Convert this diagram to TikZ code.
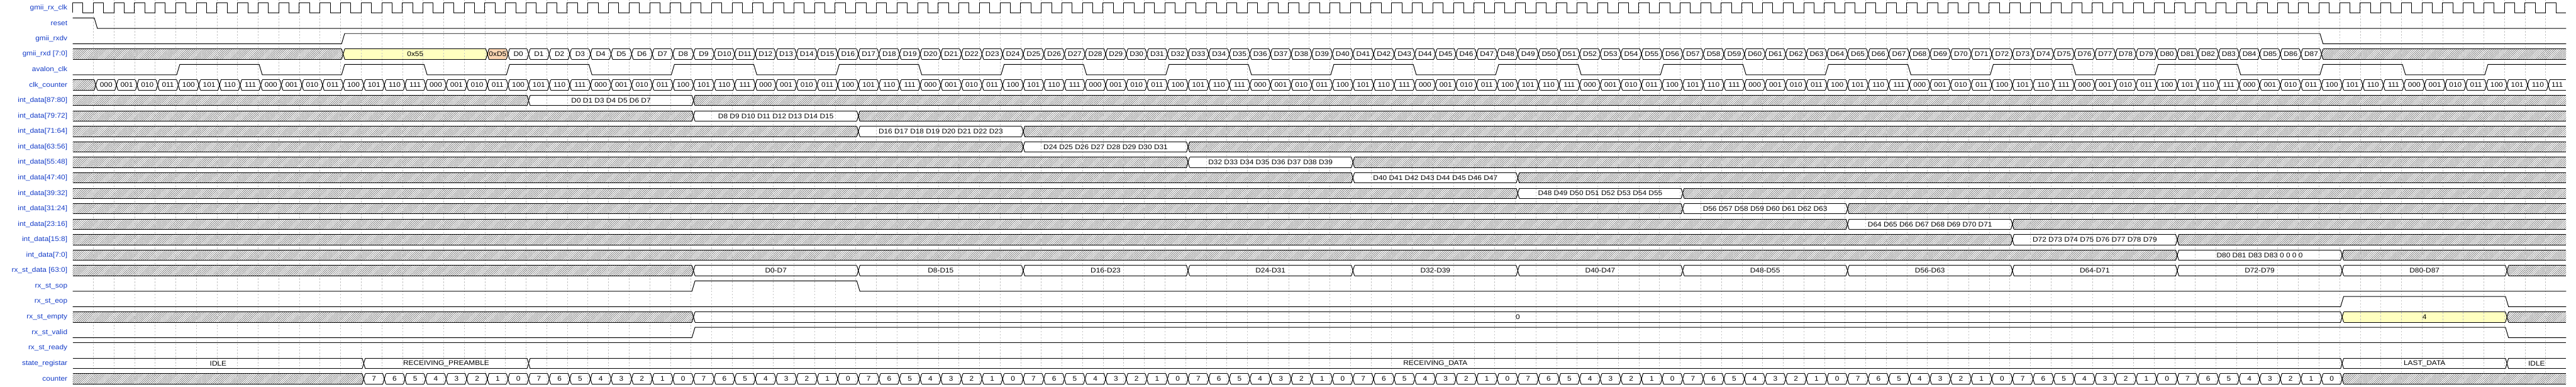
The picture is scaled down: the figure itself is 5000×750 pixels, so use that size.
\documentclass[tikz,border=0pt]{standalone}
\usepackage{fontspec}
\setmainfont[FakeStretch=1.1]{Liberation Sans}
\usetikzlibrary{patterns.meta}
\definecolor{labblue}{RGB}{20,60,200}
\definecolor{valyel}{RGB}{255,255,192}
\definecolor{valpch}{RGB}{252,214,178}
\tikzset{
  sig/.style={line width=1.2pt, line join=miter},
  lab/.style={text=labblue, anchor=east, inner sep=0pt, font=\fontsize{13.2}{15}\selectfont},
  vt/.style={inner sep=0pt, font=\fontsize{13.2}{15}\selectfont},
  hatch/.style={pattern={Lines[angle=45,distance=2.83pt,line width=0.8pt]}, pattern color=black!60},
  wbox/.style={fill=white},
  ybox/.style={fill=valyel},
  pbox/.style={fill=valpch},
  gridline/.style={gray!45, line width=0.6pt, dash pattern=on 3pt off 3pt},
  declare function={ts(\k)=143+40*\k; te(\k)=149+40*\k;}
}
\newif\iffillpass
\newcommand\segshape[4]{%
  \pgfmathsetmacro\yt{5+30*#1}%
  \pgfmathsetmacro\yb{25+30*#1}%
  \pgfmathsetmacro\ym{15+30*#1}%
  \ifnum#2=0 \def\xa{141}\def\xai{141}\else\pgfmathsetmacro\xa{146+40*#2}\pgfmathsetmacro\xai{\xa+3}\fi
  \ifnum#3=121 \def\xb{4981}\def\xbi{4981}\else\pgfmathsetmacro\xb{146+40*#3}\pgfmathsetmacro\xbi{\xb-3}\fi
  \iffillpass
  \path[#4] (\xa,\ym) -- (\xai,\yt) -- (\xbi,\yt) -- (\xb,\ym) -- (\xbi,\yb) -- (\xai,\yb) -- cycle;
  \else
  \draw[sig] (\xai,\yt) -- (\xbi,\yt) (\xai,\yb) -- (\xbi,\yb);
  \ifnum#2=0 \else \draw[sig] (\xai,\yt) -- (\xa,\ym) -- (\xai,\yb);\fi
  \ifnum#3=121 \else \draw[sig] (\xbi,\yt) -- (\xb,\ym) -- (\xbi,\yb);\fi
  \fi
}
\newcommand\hatchseg[3]{\segshape{#1}{#2}{#3}{hatch}}
\newcommand\busseg[6]{\segshape{#1}{#2}{#3}{#4}\iffillpass\else\node[vt] (#6) at ({(\xa+\xb)/2},\ym) {#5};\fi}
\newcommand\binthree[1]{\ifcase#1 000\or 001\or 010\or 011\or 100\or 101\or 110\or 111\fi}
\newcommand\allbuses{%
% gmii_rxd
\hatchseg{3}{0}{13}
\busseg{3}{13}{20}{ybox}{0x55}{rxdpre}
\busseg{3}{20}{21}{pbox}{0xD5}{rxdsfd}
\foreach \i in {0,...,87} {\pgfmathtruncatemacro\ka{21+\i}\pgfmathtruncatemacro\kb{22+\i}\busseg{3}{\ka}{\kb}{wbox}{D\i}{rxd\i}}
\hatchseg{3}{109}{121}
% clk_counter
\hatchseg{5}{0}{1}
\foreach \k in {1,...,120} {\pgfmathtruncatemacro\kb{\k+1}\pgfmathtruncatemacro\v{mod(\k-1,8)}\busseg{5}{\k}{\kb}{wbox}{\binthree{\v}}{cc\k}}
% int_data
\foreach \r/\t in {0/{D0 D1 D3 D4 D5 D6 D7},1/{D8 D9 D10 D11 D12 D13 D14 D15},2/{D16 D17 D18 D19 D20 D21 D22 D23},
  3/{D24 D25 D26 D27 D28 D29 D30 D31},4/{D32 D33 D34 D35 D36 D37 D38 D39},5/{D40 D41 D42 D43 D44 D45 D46 D47},
  6/{D48 D49 D50 D51 D52 D53 D54 D55},7/{D56 D57 D58 D59 D60 D61 D62 D63},8/{D64 D65 D66 D67 D68 D69 D70 D71},
  9/{D72 D73 D74 D75 D76 D77 D78 D79},10/{D80 D81 D83 D83 0 0 0 0}} {
  \pgfmathtruncatemacro\row{6+\r}\pgfmathtruncatemacro\ka{22+8*\r}\pgfmathtruncatemacro\kb{30+8*\r}
  \hatchseg{\row}{0}{\ka}
  \busseg{\row}{\ka}{\kb}{wbox}{\t}{id\r}
  \hatchseg{\row}{\kb}{121}
}
% rx_st_data
\hatchseg{17}{0}{30}
\foreach \i in {0,...,10} {\pgfmathtruncatemacro\ka{30+8*\i}\pgfmathtruncatemacro\kb{38+8*\i}\pgfmathtruncatemacro\da{8*\i}\pgfmathtruncatemacro\db{8*\i+7}\busseg{17}{\ka}{\kb}{wbox}{D\da-D\db}{sd\i}}
\hatchseg{17}{118}{121}
% rx_st_empty
\hatchseg{20}{0}{30}
\busseg{20}{30}{110}{wbox}{0}{emp0}
\busseg{20}{110}{118}{ybox}{4}{emp4}
\hatchseg{20}{118}{121}
% state_registar
\busseg{23}{0}{14}{wbox}{IDLE}{st0}
\busseg{23}{14}{22}{wbox}{RECEIVING\_PREAMBLE}{st1}
\busseg{23}{22}{110}{wbox}{RECEIVING\_DATA}{st2}
\busseg{23}{110}{118}{wbox}{LAST\_DATA}{st3}
\busseg{23}{118}{121}{wbox}{IDLE}{st4}
% counter
\hatchseg{24}{0}{14}
\foreach \k in {14,...,109} {\pgfmathtruncatemacro\kb{\k+1}\pgfmathtruncatemacro\v{7-mod(\k-14,8)}\busseg{24}{\k}{\kb}{wbox}{\v}{cn\k}}
\hatchseg{24}{110}{121}
}
\begin{document}
\begin{tikzpicture}[x=1pt,y=-1pt]
\useasboundingbox (0,0) rectangle (5000,750);
\fill[white] (0,0) rectangle (5000,750);
\fillpasstrue
\allbuses
\foreach \k in {1,...,120} \draw[gridline] ({141+40*\k},0) -- ({141+40*\k},750);
\fillpassfalse
\allbuses
% labels
\foreach \r/\t in {0/{gmii\_rx\_clk},1/{reset},2/{gmii\_rxdv},3/{gmii\_rxd [7:0]},4/{avalon\_clk},5/{clk\_counter},
  6/{int\_data[87:80]},7/{int\_data[79:72]},8/{int\_data[71:64]},9/{int\_data[63:56]},10/{int\_data[55:48]},
  11/{int\_data[47:40]},12/{int\_data[39:32]},13/{int\_data[31:24]},14/{int\_data[23:16]},15/{int\_data[15:8]},
  16/{int\_data[7:0]},17/{rx\_st\_data [63:0]},18/{rx\_st\_sop},19/{rx\_st\_eop},20/{rx\_st\_empty},
  21/{rx\_st\_valid},22/{rx\_st\_ready},23/{state\_registar},24/{counter}}
  \node[lab] (lab\r) at (131,{15+30*\r}) {\t};
% gmii_rx_clk
\draw[sig] (141,25) foreach \k in {0,...,120} { -- ({141+40*\k},25) -- ({141+40*\k},5) -- ({161+40*\k},5) -- ({161+40*\k},25) } -- (4981,25);
% reset
\draw[sig] (141,35) -- ({ts(1)},35) -- ({te(1)},55) -- (4981,55);
% gmii_rxdv
\draw[sig] (141,85) -- ({ts(13)},85) -- ({te(13)},65) -- ({ts(109)},65) -- ({te(109)},85) -- (4981,85);
% avalon_clk
\draw[sig] (141,145) foreach \m in {0,...,13} { -- ({ts(5+8*\m)},145) -- ({te(5+8*\m)},125) -- ({ts(9+8*\m)},125) -- ({te(9+8*\m)},145) } -- ({ts(117)},145) -- ({te(117)},125) -- (4981,125);
% rx_st_sop
\draw[sig] (141,565) -- ({ts(30)},565) -- ({te(30)},545) -- ({ts(38)},545) -- ({te(38)},565) -- (4981,565);
% rx_st_eop
\draw[sig] (141,595) -- ({ts(110)},595) -- ({te(110)},575) -- ({ts(118)},575) -- ({te(118)},595) -- (4981,595);
% rx_st_valid
\draw[sig] (141,655) -- ({ts(30)},655) -- ({te(30)},635) -- ({ts(118)},635) -- ({te(118)},655) -- (4981,655);
% rx_st_ready
\draw[sig] (141,665) -- (4981,665);
\end{tikzpicture}
\end{document}
